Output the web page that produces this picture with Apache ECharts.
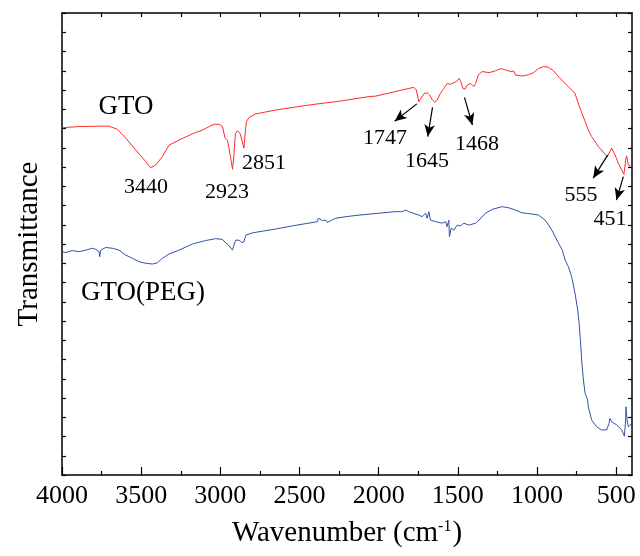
<!DOCTYPE html>
<html>
<head>
<meta charset="utf-8">
<script src="https://cdn.jsdelivr.net/npm/echarts@6/dist/echarts.min.js"></script>
<style>
html,body{margin:0;padding:0;background:#fff}
#main{width:640px;height:556px}
</style>
</head>
<body>
<div id="main"></div>
<script>
// wavenumber axis ticks
var xTicks = [500, 1000, 1500, 2000, 2500, 3000, 3500, 4000];
var xMinor = [750, 1250, 1750, 2250, 2750, 3250, 3750];
var xTop = [500, 750, 1000, 1250, 1500, 1750, 2000, 2250, 2500, 2750, 3000, 3250, 3500, 3750];

// GTO (red)
var redWn = [4000,3892,3766,3703,3650,3597,3534,3471,3440,3408,3366,3324,3261,3177,3113,3071,3039,3008,2987,2970,
  2955,2940,2923,2915,2905,2891,2876,2864,2851,2843,2835,2818,2776,2650,2439,2229,2060,2020,1915,1810,
  1778,1762,1747,1735,1714,1693,1678,1660,1645,1630,1608,1588,1567,1545,1524,1503,1492,1481,1468,1455,
  1440,1419,1398,1387,1371,1346,1303,1261,1241,1220,1199,1167,1146,1136,1125,1094,1053,1021,990,959,
  927,896,854,802,760,728,696,676,655,612,570,555,528,507,486,465,451,440,434,423,412,402];
var redT = [90.2,90.5,90.6,90.6,89.8,87.5,84.4,81.4,79.8,80.5,82.7,85.7,87.0,88.6,89.6,90.5,91.1,91.1,90.5,87.5,
  87.0,83.6,79.4,82.7,88.6,89.4,88.8,87.0,84.9,88.8,91.8,92.9,93.8,94.8,96.1,97.2,98.3,98.4,99.4,100.4,
  100.7,100.0,97.0,97.4,99.0,99.3,98.7,97.4,96.8,97.4,99.3,100.4,101.7,101.5,101.9,102.4,103.0,102.2,100.4,100.2,
  101.3,101.7,100.9,101.7,103.9,104.8,104.5,105.0,105.4,105.5,105.2,104.8,104.9,103.9,103.5,103.6,104.0,104.5,105.6,106.1,
  105.9,105.0,103.0,100.9,99.1,95.2,91.8,89.6,87.9,85.3,83.3,82.7,84.9,83.1,81.0,79.2,78.1,81.8,82.9,80.5,81.0,80.1];

// GTO(PEG) (blue)
var blueWn = [4000,3976,3935,3892,3850,3808,3787,3766,3762,3755,3724,3682,3640,3597,3556,3513,3471,3429,3398,3366,
  3324,3261,3176,3092,3029,2987,2966,2950,2923,2912,2902,2882,2865,2852,2839,2797,2650,2545,2387,2381,
  2355,2334,2324,2313,2296,2271,2187,2124,1998,1894,1883,1852,1830,1810,1789,1746,1726,1704,1694,1683,
  1673,1641,1599,1578,1568,1557,1553,1542,1525,1504,1483,1462,1431,1388,1367,1325,1283,1220,1178,1136,
  1094,1032,990,948,906,864,840,822,802,781,760,743,734,726,718,707,696,680,676,655,
  623,592,560,545,539,528,497,465,448,440,438,431,423,412,402];
var blueT = [58.0,57.8,58.3,58.0,58.4,58.9,58.6,58.0,56.7,58.4,59.1,58.9,58.4,57.1,56.3,55.4,55.0,54.8,55.1,56.3,
  57.4,58.4,60.0,60.9,61.4,61.2,60.3,59.8,58.4,60.0,61.0,61.0,60.4,60.5,62.3,62.9,63.9,64.7,65.8,66.7,
  66.1,66.2,65.6,65.4,66.2,66.7,67.2,67.5,68.0,68.4,68.1,68.4,68.8,68.4,68.1,67.5,67.1,68.0,66.7,68.4,
  66.2,65.8,65.4,65.8,64.5,66.2,61.9,64.1,63.6,64.9,64.7,65.4,64.9,65.4,66.2,68.0,69.0,69.7,69.4,68.8,
  68.1,67.8,67.5,66.2,63.6,60.2,58.4,55.8,54.1,51.5,47.2,42.9,39.4,35.1,29.9,24.7,21.2,19.5,17.7,14.3,
  12.5,11.7,11.7,13.4,14.7,13.8,13.0,11.7,10.1,14.3,17.7,14.3,12.5,13.0,13.4];

// peak arrows: [from wn, from T, to wn, to T]
var arrows = [[1759,96.4,1899,91.9],[1660,95.5,1690,87.9],[1458,98.1,1408,90.9],[554,83.1,645,77.1],[455,77.5,498,71.4]];

// annotation texts
var labelTexts = ['GTO','GTO(PEG)','3440','2923','2851','1747','1645','1468','555','451'];
var labelPos = [[126,107,27],[143,293,27],[146,187,22],[227,192,22],[264,163,22],[385,138,22],[427,161,22],[477,144,22],[581,195,22],[610,219,22]];

var FONT = '"Liberation Serif", "Times New Roman", serif';

function zip(a, b) {
  var out = [];
  for (var i = 0; i < a.length; i++) out.push([a[i], b[i]]);
  return out;
}

var myChart = echarts.init(document.getElementById('main'));

var baseX = { type: 'value', min: 400, max: 4000, inverse: true, splitLine: { show: false } };
var black = '#000';

var option = {
  animation: false,
  backgroundColor: '#fff',
  grid: { left: 62, right: 8, top: 13, bottom: 81, outerBoundsMode: 'none' },
  xAxis: [
    echarts.util.merge({
      position: 'bottom',
      axisLine: { lineStyle: { color: black, width: 1.5 } },
      axisTick: { inside: true, length: 8, customValues: xTicks, lineStyle: { color: black, width: 1.2 } },
      axisLabel: {
        customValues: xTicks, color: black, fontFamily: FONT, fontSize: 26, margin: 8,
        formatter: function (v) { return String(v); }
      },
      name: '{a|Wavenumber (cm}{s|-1}{a|)}',
      nameLocation: 'middle',
      nameGap: 44,
      nameTextStyle: {
        color: black,
        rich: {
          a: { fontFamily: FONT, fontSize: 29, color: black },
          s: { fontFamily: FONT, fontSize: 16, color: black, verticalAlign: 'top', padding: [0, 1, 12, 0] }
        }
      }
    }, baseX, true),
    echarts.util.merge({
      position: 'bottom',
      axisLine: { show: false },
      axisTick: { inside: true, length: 4, customValues: xMinor, lineStyle: { color: black, width: 1.2 } },
      axisLabel: { show: false }
    }, baseX, true),
    echarts.util.merge({
      position: 'top',
      axisLine: { lineStyle: { color: black, width: 1.5 } },
      axisTick: { inside: true, length: 4, customValues: xTop, lineStyle: { color: black, width: 1.2 } },
      axisLabel: { show: false }
    }, baseX, true)
  ],
  yAxis: [
    {
      type: 'value', min: 0, max: 120, interval: 5, position: 'left',
      axisLine: { show: true, lineStyle: { color: black, width: 1.5 } },
      axisTick: { show: true, inside: true, length: 4, lineStyle: { color: black, width: 1.2 } },
      axisLabel: { show: false },
      splitLine: { show: false },
      name: 'Transmittance',
      nameLocation: 'middle',
      nameGap: 18,
      nameTextStyle: { color: black, fontFamily: FONT, fontSize: 29 }
    },
    {
      type: 'value', min: 0, max: 120, interval: 5, position: 'right',
      axisLine: { show: true, lineStyle: { color: black, width: 1.5 } },
      axisTick: { show: true, inside: true, length: 4, lineStyle: { color: black, width: 1.2 } },
      axisLabel: { show: false },
      splitLine: { show: false }
    }
  ],
  series: [
    {
      name: 'GTO',
      type: 'line',
      data: zip(redWn, redT),
      showSymbol: false,
      lineStyle: { color: '#ff2a2a', width: 1 },
      itemStyle: { color: '#ff2a2a' },
      silent: true,
      markLine: {
        silent: true,
        animation: false,
        symbol: ['none', 'arrow'],
        symbolSize: [8, 12],
        label: { show: false },
        lineStyle: { color: black, width: 1.2, type: 'solid' },
        emphasis: { disabled: true },
        data: arrows.map(function (a) {
          return [{ coord: [a[0], a[1]] }, { coord: [a[2], a[3]] }];
        })
      }
    },
    {
      name: 'GTO(PEG)',
      type: 'line',
      data: zip(blueWn, blueT),
      showSymbol: false,
      lineStyle: { color: '#3352aa', width: 1 },
      itemStyle: { color: '#3352aa' },
      silent: true
    }
  ],
  graphic: labelTexts.map(function (t, i) {
    var p = labelPos[i];
    return {
      type: 'text',
      x: p[0],
      y: p[1],
      silent: true,
      style: {
        text: t,
        fill: black,
        font: p[2] + 'px ' + FONT,
        align: 'center',
        verticalAlign: 'middle'
      }
    };
  })
};

myChart.setOption(option);
</script>
</body>
</html>
